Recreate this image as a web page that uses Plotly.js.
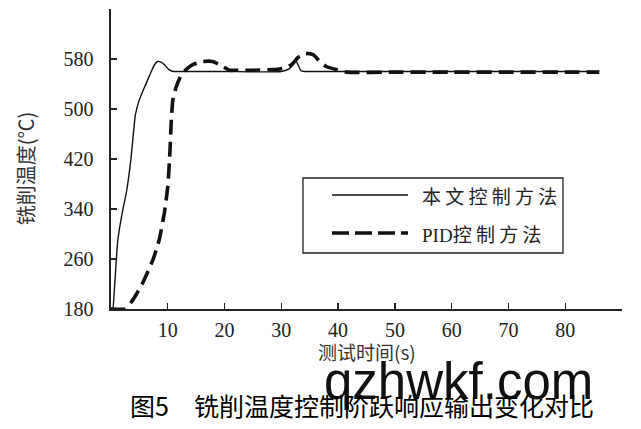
<!DOCTYPE html>
<html>
<head>
<meta charset="utf-8">
<script src="https://cdn.plot.ly/plotly-3.0.1.min.js"></script>
<style>html,body{margin:0;padding:0;background:#fff;}#chart{width:641px;height:429px;}</style>
</head>
<body>
<div id="chart"></div>
<script>
// 本文控制方法 (solid)
const timeA = [0, 0.3, 0.6, 1.2, 2.0, 2.7, 3.5, 4.3, 5.0, 6.0, 7.0, 7.6, 8.2, 8.8, 9.4, 10.2, 11.0, 12, 20, 30, 31.5, 32.6, 33.5, 35, 40, 50, 60, 70, 80, 86];
const tempA = [180, 180, 212, 290, 335, 366, 419, 491, 515, 537, 558, 570, 576, 575, 571, 563, 560, 560, 560, 560, 565, 576, 561, 560, 560, 560, 560, 560, 560, 560];
// PID控制方法 (dashed)
const timeB = [0, 2.5, 3.5, 4.5, 5.6, 6.5, 7.4, 8.5, 9.4, 10.0, 10.4, 10.6, 10.9, 11.5, 12.4, 13.2, 14.4, 16.2, 17.9, 19.7, 20.9, 22, 25, 29.7, 31.8, 32.9, 34.2, 35.6, 36.9, 37.9, 39.7, 41.5, 50, 60, 70, 80, 86];
const tempB = [180, 180, 190, 204, 222, 240, 259, 291, 334, 376, 435, 478, 515, 536, 555, 563, 571, 576, 576, 568, 562, 562, 562, 564, 571, 582, 589, 587, 575, 568, 563, 559, 559, 559, 559, 559, 559];
const seriesNames = ['本文控制方法', 'PID控制方法'];
const xTickVals = [10, 20, 30, 40, 50, 60, 70, 80, 90];
const xTickText = ['10', '20', '30', '40', '50', '60', '70', '80', ''];
const yTickVals = [180, 260, 340, 420, 500, 580];
const xTitle = '测试时间(s)';
const yTitle = '铣削温度(℃)';
const caption = '图5　铣削温度控制阶跃响应输出变化对比';
const watermark = 'qzhwkf.com';

const traces = [
  {x: timeA, y: tempA, name: seriesNames[0], mode: 'lines', type: 'scatter',
   line: {color: '#111', width: 1.4, shape: 'spline', smoothing: 0.5}},
  {x: timeB, y: tempB, name: seriesNames[1], mode: 'lines', type: 'scatter',
   line: {color: '#111', width: 3.6, dash: '15px,7px', shape: 'spline', smoothing: 0.5}}
];

const serif = 'Liberation Serif';
const tickFont = {family: serif, size: 20, color: '#222'};
const cjk = 'Noto Sans CJK SC';

const layout = {
  width: 641, height: 429,
  margin: {l: 111, r: 19, t: 9, b: 120},
  paper_bgcolor: '#fff', plot_bgcolor: '#fff',
  showlegend: false,
  xaxis: {range: [0, 90], tickvals: xTickVals, ticktext: xTickText, ticks: 'inside', ticklen: 6,
    tickwidth: 1.3, tickcolor: '#222', showline: true, linecolor: '#222', linewidth: 1.6,
    showgrid: false, zeroline: false, tickfont: tickFont, ticklabelstandoff: 2},
  yaxis: {range: [180, 660], tickvals: yTickVals, ticks: 'inside', ticklen: 6,
    tickwidth: 1.3, tickcolor: '#222', showline: true, linecolor: '#222', linewidth: 1.6,
    showgrid: false, zeroline: false, tickfont: tickFont, ticklabelstandoff: 12},
  shapes: [
    {type: 'rect', xref: 'paper', yref: 'paper', x0: 0.3757, x1: 0.8845, y0: 0.1867, y1: 0.4367,
     line: {color: '#222', width: 1.3}, fillcolor: 'rgba(0,0,0,0)'},
    {type: 'line', xref: 'paper', yref: 'paper', x0: 0.4325, x1: 0.5812, y0: 0.38, y1: 0.38,
     line: {color: '#111', width: 1.4}},
    {type: 'line', xref: 'paper', yref: 'paper', x0: 0.4325, x1: 0.5812, y0: 0.2533, y1: 0.2533,
     line: {color: '#111', width: 3.6, dash: '17px,6px'}}
  ],
  annotations: [
    {xref: 'paper', yref: 'paper', x: 0.6047, y: 0.38, xanchor: 'left', yanchor: 'middle', showarrow: false,
     text: '本 文 控 制 方 法', font: {family: cjk, size: 19, color: '#222'}},
    {xref: 'paper', yref: 'paper', x: 0.6047, y: 0.2533, xanchor: 'left', yanchor: 'middle', showarrow: false,
     text: '<span style="font-family:Liberation Serif">PID</span>控 制 方 法', font: {family: cjk, size: 19, color: '#222'}},
    {xref: 'paper', yref: 'paper', x: 0.501, y: -0.1433, xanchor: 'center', yanchor: 'middle', showarrow: false,
     text: xTitle, font: {family: cjk, size: 19, color: '#333'}},
    {xref: 'paper', yref: 'paper', x: -0.168, y: 0.47, xanchor: 'center', yanchor: 'middle', showarrow: false,
     textangle: -90, text: yTitle, font: {family: cjk, size: 20, color: '#333'}},
    {xref: 'paper', yref: 'paper', x: 0.681, y: -0.24, xanchor: 'center', yanchor: 'middle', showarrow: false,
     text: watermark, font: {family: 'Liberation Sans', size: 51, color: '#111'}},
    {xref: 'paper', yref: 'paper', x: 0.492, y: -0.32, xanchor: 'center', yanchor: 'middle', showarrow: false,
     text: caption, font: {family: cjk, size: 25, color: '#000'}}
  ]
};

Plotly.newPlot('chart', traces, layout, {displayModeBar: false, staticPlot: true});
</script>
</body>
</html>
